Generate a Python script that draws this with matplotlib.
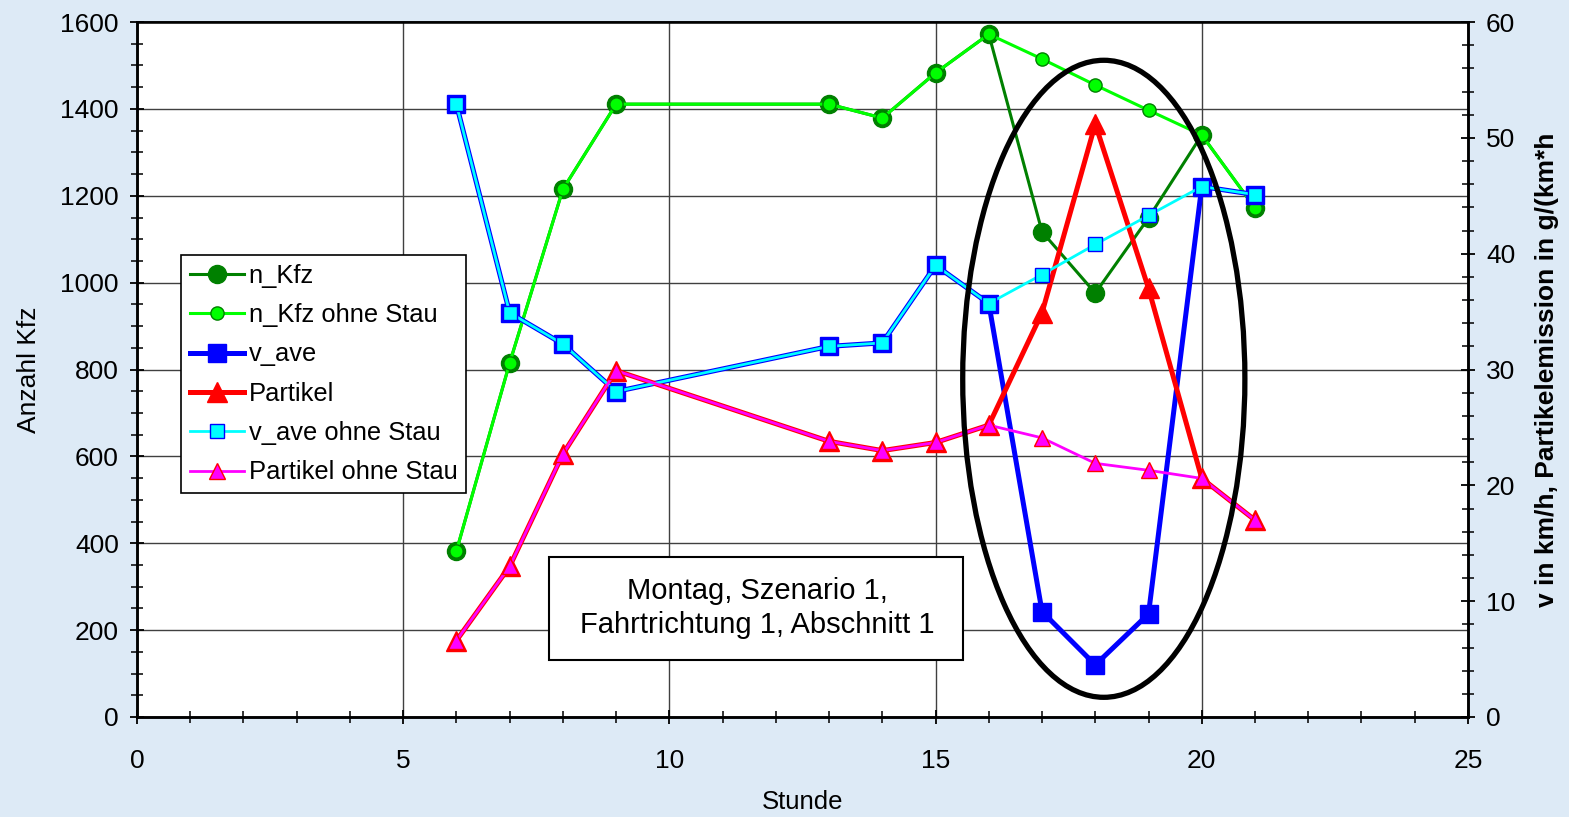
import matplotlib
matplotlib.use("Agg")

import numpy as np
import matplotlib.pyplot as plt
from matplotlib.patches import Ellipse, Rectangle
from matplotlib.ticker import MultipleLocator

plt.rcParams["font.family"] = ["Liberation Sans", "DejaVu Sans"]

# ── Data ────────────────────────────────────────────────────────────
stunde = [6, 7, 8, 9, 13, 14, 15, 16, 17, 18, 19, 20, 21]

n_kfz = [382, 815, 1215, 1411, 1411, 1379, 1483, 1572, 1117, 976, 1149, 1340, 1172]
n_kfz_ohne = [382, 815, 1215, 1411, 1411, 1379, 1483, 1572, 1515, 1455, 1397, 1340, 1172]

v_ave = [52.9, 34.9, 32.2, 28.1, 32.0, 32.3, 39.0, 35.7, 9.1, 4.5, 8.9, 45.8, 45.1]
v_ave_ohne = [52.9, 34.9, 32.2, 28.1, 32.0, 32.3, 39.0, 35.7, 38.2, 40.8, 43.3, 45.8, 45.1]

partikel = [6.6, 13.0, 22.7, 29.9, 23.8, 23.0, 23.7, 25.2, 34.9, 51.2, 37.0, 20.6, 17.0]
partikel_ohne = [6.6, 13.0, 22.7, 29.9, 23.8, 23.0, 23.7, 25.2, 24.1, 21.9, 21.3, 20.6, 17.0]

BG = "#DDEAF6"

# ── Figure ──────────────────────────────────────────────────────────
fig = plt.figure(figsize=(15.69, 8.17), dpi=100, facecolor=BG)
ax = fig.add_axes([0.0873, 0.1224, 0.8483, 0.8506])
ax2 = ax.twinx()

ax.set_xlim(0, 25)
ax.set_ylim(0, 1600)
ax2.set_ylim(0, 60)

ax.xaxis.set_major_locator(MultipleLocator(5))
ax.xaxis.set_minor_locator(MultipleLocator(1))
ax.yaxis.set_major_locator(MultipleLocator(200))
ax.yaxis.set_minor_locator(MultipleLocator(50))
ax2.yaxis.set_major_locator(MultipleLocator(10))
ax2.yaxis.set_minor_locator(MultipleLocator(2))

ax.grid(True, which="major", color="#404040", linewidth=1.0)
ax.set_axisbelow(True)

for a in (ax, ax2):
    for s in a.spines.values():
        s.set_linewidth(1.8)
    a.tick_params(which="major", direction="inout", length=10, width=1.3, labelsize=19)
    a.tick_params(which="minor", direction="inout", length=8, width=1.1)
ax.spines["top"].set_linewidth(1.2)
ax.tick_params(axis="x", pad=18)
ax.tick_params(axis="y", pad=8)
ax2.tick_params(axis="y", pad=8)

# ── Primary axis: vehicle counts ────────────────────────────────────
l1, = ax.plot(stunde, n_kfz, color="#008000", linewidth=2.2, marker="o",
              markersize=13, markerfacecolor="#008000", markeredgecolor="#008000",
              label="n_Kfz")
l2, = ax.plot(stunde, n_kfz_ohne, color="#00FF00", linewidth=2.2, marker="o",
              markersize=9.5, markerfacecolor="#00FF00", markeredgecolor="#008000",
              markeredgewidth=1.0, label="n_Kfz ohne Stau")

# ── Secondary axis: speed and particles ─────────────────────────────
l3, = ax2.plot(stunde, v_ave, color="#0000FF", linewidth=3.6, marker="s",
               markersize=13, markerfacecolor="#0000FF", markeredgecolor="#0000FF",
               label="v_ave")
l4, = ax2.plot(stunde, partikel, color="#FF0000", linewidth=3.6, marker="^",
               markersize=15, markerfacecolor="#FF0000", markeredgecolor="#FF0000",
               label="Partikel")
l5, = ax2.plot(stunde, v_ave_ohne, color="#00FFFF", linewidth=2.0, marker="s",
               markersize=9.5, markerfacecolor="#00FFFF", markeredgecolor="#0000FF",
               markeredgewidth=1.0, label="v_ave ohne Stau")
l6, = ax2.plot(stunde, partikel_ohne, color="#FF00FF", linewidth=2.0, marker="^",
               markersize=11, markerfacecolor="#FF00FF", markeredgecolor="#FF0000",
               markeredgewidth=1.0, label="Partikel ohne Stau")

# ── Labels ──────────────────────────────────────────────────────────
ax.set_xlabel("Stunde", fontsize=18.5, labelpad=12)
ax.set_ylabel("Anzahl Kfz", fontsize=19, labelpad=14)
ax2.set_ylabel("v in km/h, Partikelemission in g/(km*h", fontsize=19,
               fontweight="bold", labelpad=14)

# ── Annotations ─────────────────────────────────────────────────────
ell = Ellipse((18.16, 29.2), 5.3, 55.0, fill=False, edgecolor="black",
              linewidth=3.8, zorder=10)
ax2.add_patch(ell)

box = Rectangle((0.3095, 0.082), 0.311, 0.148, transform=ax.transAxes,
                facecolor="white", edgecolor="black", linewidth=1.5, zorder=11)
ax2.add_patch(box)
ax2.text(0.4658, 0.157, "Montag, Szenario 1,\nFahrtrichtung 1, Abschnitt 1",
         transform=ax.transAxes, ha="center", va="center", fontsize=21,
         linespacing=1.25, zorder=12)

leg = ax2.legend(handles=[l1, l2, l3, l4, l5, l6], loc="upper left",
                 bbox_to_anchor=(0.033, 0.665), fontsize=18.4, frameon=True,
                 fancybox=False, edgecolor="black", framealpha=1.0,
                 borderpad=0.35, labelspacing=0.6, handlelength=2.1,
                 handletextpad=0.2, borderaxespad=0)
leg.get_frame().set_linewidth(1.2)
leg.set_zorder(20)

fig.savefig("out.png", dpi=100, facecolor=BG)
